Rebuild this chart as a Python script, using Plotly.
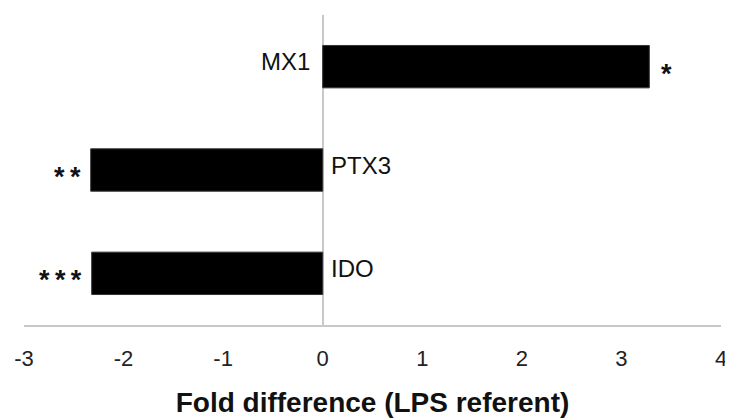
import plotly.graph_objects as go

genes = ["IDO", "PTX3", "MX1"]
fold_diff = [-2.32, -2.33, 3.28]
significance = ["***", "**", "*"]
x_ticks = [-3, -2, -1, 0, 1, 2, 3, 4]
x_title = "Fold difference (LPS referent)"

FONT = "Liberation Sans, Arial, sans-serif"

fig = go.Figure()
fig.add_trace(go.Bar(
    y=genes, x=fold_diff, orientation="h",
    marker=dict(color="black", line=dict(color="#333", width=1)),
    hoverinfo="skip", showlegend=False,
))

annotations = []
for g, v, s in zip(genes, fold_diff, significance):
    annotations.append(dict(
        x=0, y=g, xref="x", yref="y", text=g, showarrow=False,
        xanchor="left" if v < 0 else "right",
        xshift=6 if v < 0 else -11, yshift=5,
        font=dict(family=FONT, size=24, color="#111"),
    ))
    annotations.append(dict(
        x=v, y=g, xref="x", yref="y", text="\u2009".join(s), showarrow=False,
        xanchor="right" if v < 0 else "left",
        xshift=-8 if v < 0 else 10, yshift=-7,
        font=dict(family=FONT, size=27, color="#111", weight="bold"),
    ))

fig.update_layout(
    width=725, height=411,
    margin=dict(l=11, r=6, t=7, b=94),
    paper_bgcolor="white", plot_bgcolor="white",
    bargap=0.59,
    annotations=annotations,
    xaxis=dict(
        range=[-3, 4], tickvals=x_ticks, ticktext=[str(t) for t in x_ticks],
        showgrid=False, zeroline=True, zerolinecolor="#c8c8c8", zerolinewidth=2,
        showline=True, linecolor="#c8c8c8", linewidth=2,
        ticks="", ticklabelstandoff=13, ticklabeloverflow="allow",
        tickfont=dict(family=FONT, size=22, color="#222"),
        title=dict(text=x_title, standoff=22,
                   font=dict(family=FONT, size=28, color="#111", weight="bold")),
        fixedrange=True,
    ),
    yaxis=dict(
        showticklabels=False, showgrid=False, zeroline=False, showline=False,
        ticks="", fixedrange=True,
    ),
)

fig.write_html("out.html")
